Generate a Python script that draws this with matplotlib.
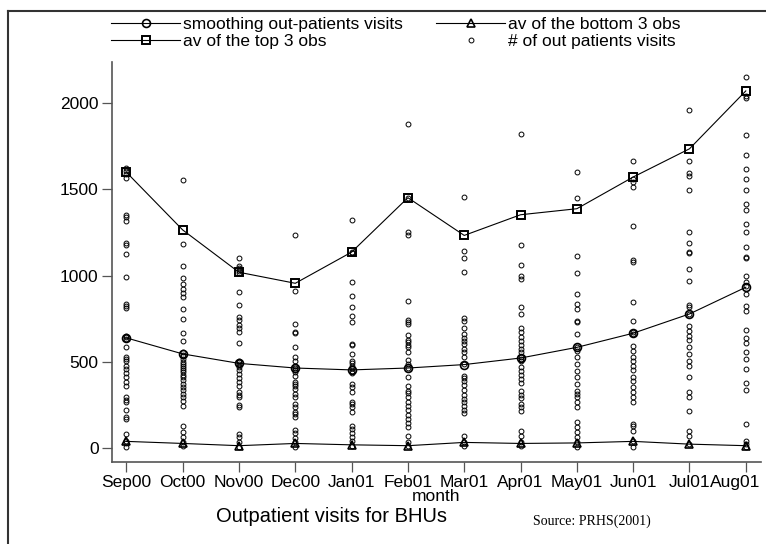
import matplotlib
matplotlib.use("Agg")
import matplotlib.pyplot as plt
from matplotlib.lines import Line2D
from matplotlib.transforms import ScaledTranslation

# ---- data -------------------------------------------------------------
months = ["Sep00", "Oct00", "Nov00", "Dec00", "Jan01", "Feb01",
          "Mar01", "Apr01", "May01", "Jun01", "Jul01", "Aug01"]

smoothing = [638, 545, 490, 463, 452, 463, 483, 521, 583, 665, 777, 932]
top3_avg = [1600, 1265, 1019, 955, 1136, 1452, 1233, 1353, 1388, 1572, 1736, 2072]
bottom3_avg = [37, 25, 12, 25, 17, 12, 31, 25, 28, 37, 21, 12]

visits_sep00 = [1624, 1605, 1591, 1568, 1353, 1339, 1316, 1188, 1180, 1126, 990, 835,
                821, 812, 651, 641, 632, 583, 529, 516, 502, 477, 457, 432, 413, 380,
                360, 292, 279, 263, 219, 180, 166, 79, 37, 28, 6]
visits_oct00 = [1552, 1184, 1054, 986, 951, 920, 897, 874, 806, 748, 667, 618, 554,
                541, 530, 516, 500, 487, 475, 463, 450, 438, 425, 409, 395, 370, 351,
                335, 312, 292, 273, 244, 124, 89, 60, 31, 12]
visits_nov00 = [1103, 1058, 1045, 1029, 1013, 907, 829, 758, 744, 715, 695, 670, 606,
                506, 496, 487, 471, 452, 428, 405, 380, 360, 322, 308, 292, 250, 238,
                79, 60, 31, 6]
visits_dec00 = [1238, 909, 719, 675, 665, 583, 525, 506, 477, 463, 452, 438, 419, 380,
                370, 360, 341, 312, 292, 254, 234, 205, 196, 176, 103, 83, 56, 31, 6]
visits_jan01 = [1323, 1136, 1130, 961, 880, 815, 763, 728, 603, 598, 545, 506, 490,
                477, 463, 448, 432, 370, 351, 322, 263, 254, 234, 205, 128, 108, 83,
                64, 41, 12]
visits_feb01 = [1882, 1452, 1252, 1233, 851, 743, 733, 719, 657, 626, 612, 599, 583,
                558, 510, 487, 463, 413, 360, 331, 316, 292, 263, 244, 219, 192, 166,
                141, 122, 70, 31, 12]
visits_mar01 = [1455, 1145, 1103, 1019, 754, 738, 696, 661, 637, 622, 603, 574, 554,
                525, 487, 419, 405, 386, 366, 335, 308, 283, 263, 244, 219, 199, 70,
                31, 10]
visits_apr01 = [1820, 1178, 1064, 1000, 980, 815, 777, 696, 670, 645, 622, 599, 574,
                554, 529, 516, 502, 471, 448, 424, 399, 374, 331, 308, 289, 254, 234,
                215, 99, 70, 31, 10]
visits_may01 = [1601, 1452, 1116, 1013, 894, 835, 806, 738, 729, 661, 583, 564, 525,
                487, 448, 409, 370, 331, 312, 292, 263, 234, 147, 118, 89, 60, 31, 6]
visits_jun01 = [1665, 1560, 1543, 1514, 1285, 1091, 1078, 844, 738, 670, 660, 593,
                564, 529, 502, 477, 452, 409, 390, 351, 322, 292, 263, 137, 124, 95,
                41, 2]
visits_jul01 = [1959, 1665, 1595, 1576, 1494, 1252, 1188, 1136, 1130, 1039, 971, 831,
                815, 777, 709, 680, 651, 626, 583, 545, 506, 477, 413, 322, 292, 215,
                99, 70, 21]
visits_aug01 = [2153, 2040, 2031, 1814, 1698, 1620, 1558, 1494, 1413, 1378, 1297,
                1252, 1165, 1107, 1103, 1000, 961, 942, 894, 825, 796, 686, 637, 608,
                554, 516, 458, 374, 335, 137, 41, 21, 2]

monthly_visits = [visits_sep00, visits_oct00, visits_nov00, visits_dec00,
                  visits_jan01, visits_feb01, visits_mar01, visits_apr01,
                  visits_may01, visits_jun01, visits_jul01, visits_aug01]

# ---- figure -----------------------------------------------------------
plt.rcParams["font.family"] = ["Liberation Sans", "DejaVu Sans"]
W, H = 766, 544
fig = plt.figure(figsize=(W / 100, H / 100), dpi=100)
fig.patch.set_facecolor("white")

left, right, top, bottom = 111.7, 761.0, 62.0, 461.7
ax = fig.add_axes([left / W, 1 - bottom / H, (right - left) / W, (bottom - top) / H])

pos = list(range(len(months)))

# individual clinic observations
for i, vals in enumerate(monthly_visits):
    ax.plot([pos[i]] * len(vals), vals, linestyle="none", marker="o", ms=3.5,
            mfc="none", mec="black", mew=0.7, zorder=2)

line_kw = dict(color="black", lw=0.8, mfc="none", mec="black", zorder=3)
h_smooth, = ax.plot(pos, smoothing, marker="o", ms=5.7, mew=1.2, **line_kw)
h_top, = ax.plot(pos, top3_avg, marker="s", ms=6.2, mew=1.4, **line_kw)
h_bot, = ax.plot(pos, bottom3_avg, marker="^", ms=5.7, mew=1.2, **line_kw)

ax.set_xlim(-0.26, 11.27)
ax.set_ylim(-81, 2240)
ax.set_yticks([0, 500, 1000, 1500, 2000])
ax.set_xticks(pos)
ax.set_xticklabels(months)

for side in ("top", "right"):
    ax.spines[side].set_visible(False)
for side in ("left", "bottom"):
    ax.spines[side].set_color("#555555")
    ax.spines[side].set_linewidth(1.2)
ax.tick_params(axis="both", direction="out", length=7, width=0.9, color="#555555",
               labelsize=12.5, pad=2.5)
ax.set_xlabel("month", fontsize=12.5, labelpad=-1)

# keep the last month label inside the frame
last = ax.get_xticklabels()[-1]
last.set_transform(last.get_transform() + ScaledTranslation(-0.11, 0, fig.dpi_scale_trans))

# legend above the plot region
h_pts = Line2D([], [], linestyle="none", marker="o", ms=3.5, mfc="none",
               mec="black", mew=0.7)
fig.legend([h_smooth, h_top, h_bot, h_pts],
           ["smoothing out-patients visits", "av of the top 3 obs",
            "av of the bottom 3 obs", "# of out patients visits"],
           ncol=2, loc="upper left", bbox_to_anchor=(111 / W, 1 - 17 / H),
           frameon=False, fontsize=12.5, handlelength=4.0, handletextpad=0.15,
           columnspacing=1.9, labelspacing=0.1, borderpad=0, borderaxespad=0)

# captions
fig.text(332 / W, 1 - 516 / H, "Outpatient visits for BHUs", fontsize=14.5,
         ha="center", va="center")
fig.text(592 / W, 1 - 521 / H, "Source: PRHS(2001)", family="Liberation Serif",
         fontsize=10, ha="center", va="center")

# outer frame
fig.add_artist(Line2D([8 / W, 1.0], [1 - 11 / H, 1 - 11 / H],
                      transform=fig.transFigure, color="#333333", lw=1.5))
fig.add_artist(Line2D([8 / W, 8 / W], [0.0, 1 - 11 / H],
                      transform=fig.transFigure, color="#333333", lw=1.5))

fig.savefig("out.png", dpi=100)
